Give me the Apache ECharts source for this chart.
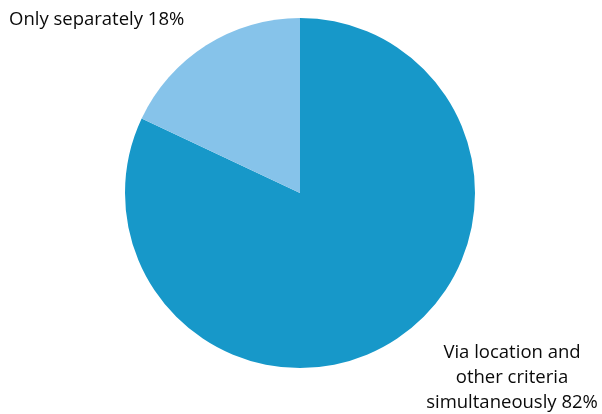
<!DOCTYPE html>
<html>
<head>
<meta charset="utf-8">
<script src="https://cdn.jsdelivr.net/npm/echarts@6/dist/echarts.min.js"></script>
<style>
  html, body { margin: 0; padding: 0; background: #fff; }
  #chart { width: 602px; height: 414px; }
</style>
</head>
<body>
<div id="chart"></div>
<script>
// Share of searches by how criteria are combined
const categories = ['Via location and\nother criteria\nsimultaneously', 'Only separately'];
const shares = [82, 18];
const colors = ['#1798c9', '#86c3ea'];

// Where each slice's label sits: [x, y, align]
const labelSpots = [
  [512, 378, 'center'],
  [9, 19.5, 'left']
];

const chart = echarts.init(document.getElementById('chart'));
chart.setOption({
  animation: false,
  series: [{
    type: 'pie',
    center: [300, 193],
    radius: 175,
    startAngle: 90,
    clockwise: true,
    avoidLabelOverlap: false,
    data: categories.map((name, i) => ({
      name: name,
      value: shares[i],
      itemStyle: { color: colors[i] }
    })),
    label: {
      show: true,
      formatter: p => p.name + ' ' + p.value + '%',
      fontFamily: 'Open Sans',
      fontSize: 18.5,
      lineHeight: 25,
      color: '#0a0a0a',
      overflow: 'none',
      width: 300,
      align: 'center'
    },
    labelLine: { show: false },
    labelLayout: function (params) {
      const s = labelSpots[params.dataIndex];
      return { x: s[0], y: s[1], align: s[2], verticalAlign: 'middle', width: 300 };
    }
  }]
});
</script>
</body>
</html>
